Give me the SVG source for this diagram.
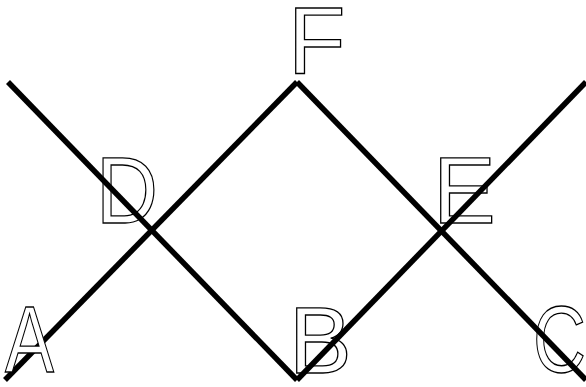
<svg xmlns="http://www.w3.org/2000/svg" width="586" height="387" viewBox="0 0 586 387">
<style>
.lbl{font-family:"Liberation Sans",Arial,sans-serif;font-size:94px;fill:#fff;stroke:#000;stroke-width:1.3}
.ln{stroke:#000;stroke-width:5.5;fill:none;stroke-linecap:butt}
</style>
<rect width="586" height="387" fill="#fff"/>
<g id="node-D"><text class="lbl" x="96" y="223" textLength="62" lengthAdjust="spacingAndGlyphs">D</text></g>
<g id="node-E"><text class="lbl" x="433" y="223">E</text></g>
<g id="node-B"><text class="lbl" x="289" y="373">B</text></g>
<g id="node-C"><text class="lbl" x="533" y="372" textLength="53" lengthAdjust="spacingAndGlyphs">C</text></g>
<g id="node-F"><text class="lbl" x="288" y="73">F</text></g>
<g id="connectors">
<line class="ln" x1="8" y1="82" x2="297" y2="380"/>
<line class="ln" x1="297" y1="380" x2="586" y2="82"/>
<line class="ln" x1="5" y1="380" x2="297" y2="82"/>
<line class="ln" x1="297" y1="82" x2="586" y2="380"/>
</g>
<g id="node-A"><text class="lbl" x="5" y="372" textLength="49" lengthAdjust="spacingAndGlyphs">A</text></g>
</svg>
